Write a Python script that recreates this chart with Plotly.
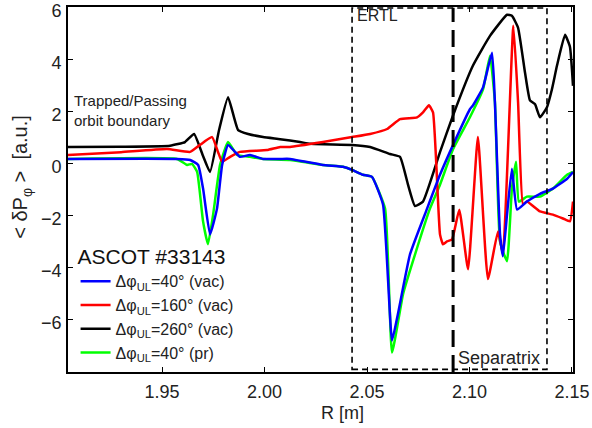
import plotly.graph_objects as go

# Major radius [m] and toroidal canonical momentum change for each coil phasing
r_vac40 = [1.9041, 1.9573, 1.9637, 1.9676, 1.9700, 1.9734, 1.9768, 1.9793, 1.9822, 1.9856,
           1.9880, 1.9929, 1.9993, 2.0076, 2.0124, 2.0285, 2.0383, 2.0427, 2.0480, 2.0524,
           2.0578, 2.0622, 2.0651, 2.0710, 2.0793, 2.0856, 2.0920, 2.1002, 2.1017, 2.1066,
           2.1110, 2.1124, 2.1149, 2.1163, 2.1183, 2.1207, 2.1232, 2.1280, 2.1344, 2.1407,
           2.1476, 2.1505]
dp_vac40 = [0.19, 0.19, 0.15, -0.04, -0.95, -2.71, -1.72, -0.04, 0.73, 0.46,
            0.27, 0.34, 0.19, 0.19, 0.19, -0.04, -0.11, -0.23, -0.42, -0.50,
            -1.56, -6.79, -5.76, -3.47, -1.72, -0.42, 0.73, 2.10, 2.25, 2.94,
            4.27, 2.37, -2.71, -3.55, -1.95, -0.19, -1.76, -1.45, -1.15, -0.95,
            -0.57, -0.31]

r_vac160 = [1.9041, 1.9300, 1.9524, 1.9637, 1.9685, 1.9744, 1.9773, 1.9793, 1.9832, 1.9880,
            2.0012, 2.0076, 2.0124, 2.0285, 2.0427, 2.0515, 2.0598, 2.0661, 2.0744, 2.0773,
            2.0802, 2.0822, 2.0856, 2.0871, 2.0890, 2.0915, 2.0950, 2.0993, 2.1041, 2.1090,
            2.1139, 2.1163, 2.1214, 2.1237, 2.1261, 2.1280, 2.1344, 2.1407, 2.1456, 2.1490,
            2.1505]
dp_vac160 = [0.34, 0.45, 0.57, 0.46, 0.73, 1.03, 0.46, 0.08, 0.27, 0.46,
             0.53, 0.65, 0.65, 0.84, 1.03, 1.15, 1.34, 1.72, 1.79, 1.98,
             2.25, 1.98, -2.71, -3.09, -2.98, -2.90, -1.76, -4.05, 1.03, -4.43,
             -2.60, -3.47, 5.31, 2.37, -1.56, -1.45, -1.83, -1.95, -2.10, -2.21,
             -1.45]

r_vac260 = [1.9041, 1.9300, 1.9539, 1.9612, 1.9656, 1.9700, 1.9734, 1.9778, 1.9822, 1.9871,
            1.9920, 1.9993, 2.0076, 2.0173, 2.0222, 2.0427, 2.0515, 2.0612, 2.0661, 2.0700,
            2.0734, 2.0773, 2.0856, 2.0920, 2.1017, 2.1100, 2.1183, 2.1207, 2.1237, 2.1271,
            2.1295, 2.1320, 2.1344, 2.1378, 2.1402, 2.1427, 2.1466, 2.1490, 2.1505]
dp_vac260 = [0.65, 0.66, 0.70, 0.84, 1.15, 0.30, -0.31, 1.30, 2.56, 1.30,
             1.15, 1.03, 0.95, 0.84, 0.77, 0.73, 0.65, 0.38, 0.27, -0.80,
             -1.62, -1.45, 0.45, 1.87, 3.78, 4.92, 5.73, 5.69, 5.23, 3.50,
             2.44, 2.29, 1.79, 2.18, 2.86, 3.78, 4.96, 4.50, 3.00]

r_pr40 = [1.9041, 1.9573, 1.9622, 1.9646, 1.9671, 1.9700, 1.9724, 1.9749, 1.9783, 1.9822,
          1.9866, 1.9929, 1.9993, 2.0124, 2.0285, 2.0383, 2.0427, 2.0480, 2.0524, 2.0588,
          2.0622, 2.0676, 2.0724, 2.0807, 2.0856, 2.0920, 2.1002, 2.1066, 2.1100, 2.1124,
          2.1149, 2.1183, 2.1207, 2.1227, 2.1241, 2.1280, 2.1344, 2.1407, 2.1476, 2.1505]
dp_pr40 = [0.19, 0.19, -0.04, 0.00, -0.31, -2.21, -3.09, -1.95, -0.04, 0.84,
           0.34, 0.27, 0.19, 0.15, -0.04, -0.11, -0.23, -0.42, -0.50, -1.72,
           -7.25, -5.00, -3.74, -1.72, -0.80, 0.57, 1.79, 2.86, 4.16, 2.37,
           -2.98, -3.74, -0.95, 0.08, -1.45, -1.26, -1.26, -0.95, -0.42, -0.31]

# Region markers [m]
ertl_r = [2.0427, 2.1378]
separatrix_r = 2.0920

x_ticks = [1.95, 2.00, 2.05, 2.10, 2.15]
y_ticks = [-6, -4, -2, 0, 2, 4, 6]

FONT = "Liberation Sans, Arial, sans-serif"
TXT = "#222222"

fig = go.Figure()

series = [
    (r_pr40, dp_pr40, "#00ff00", "Δφ<sub>UL</sub>=40° (pr)", 4),
    (r_vac260, dp_vac260, "#000000", "Δφ<sub>UL</sub>=260° (vac)", 3),
    (r_vac160, dp_vac160, "#ff0000", "Δφ<sub>UL</sub>=160° (vac)", 2),
    (r_vac40, dp_vac40, "#0000ff", "Δφ<sub>UL</sub>=40° (vac)", 1),
]
for xs, ys, col, name, rank in series:
    fig.add_trace(go.Scatter(x=xs, y=ys, mode="lines", name=name, legendrank=rank,
                             line=dict(color=col, width=2.5, shape="spline", smoothing=0.4)))

# ERTL box (short dashes) and separatrix (long dashes)
fig.add_shape(type="rect", xref="x", yref="y", x0=ertl_r[0], x1=ertl_r[1], y0=-7.9, y1=5.99,
              line=dict(color="black", width=1.6, dash="6px,4px"))
fig.add_shape(type="line", xref="x", yref="y", x0=separatrix_r, x1=separatrix_r, y0=-8, y1=6,
              line=dict(color="black", width=3, dash="17px,8px"))

fig.add_annotation(x=ertl_r[0], y=5.7, xref="x", yref="y", text="ERTL", showarrow=False,
                   xanchor="left", yanchor="middle", xshift=3,
                   font=dict(family=FONT, size=16, color=TXT))
fig.add_annotation(x=separatrix_r, y=-7.45, xref="x", yref="y", text="Separatrix", showarrow=False,
                   xanchor="left", yanchor="middle", xshift=3,
                   font=dict(family=FONT, size=18, color=TXT))
fig.add_annotation(x=1.9061, y=2.05, xref="x", yref="y", text="Trapped/Passing<br>orbit boundary",
                   showarrow=False, xanchor="left", yanchor="middle", align="left",
                   font=dict(family=FONT, size=15, color=TXT))

# axis titles
fig.add_annotation(x=-0.091, y=0.535, xref="paper", yref="paper",
                   text="< δP<sub>φ</sub> >  [a.u.]", textangle=-90, showarrow=False,
                   xanchor="center", yanchor="middle",
                   font=dict(family=FONT, size=20, color=TXT))
fig.add_annotation(x=0.5426, y=-0.112, xref="paper", yref="paper", text="R [m]",
                   showarrow=False, xanchor="center", yanchor="middle",
                   font=dict(family=FONT, size=18, color=TXT))

fig.update_layout(
    width=592, height=428,
    margin=dict(l=68, r=19, t=7, b=56, autoexpand=False),
    paper_bgcolor="white", plot_bgcolor="white",
    font=dict(family=FONT, color=TXT),
    showlegend=True,
    legend=dict(
        x=0.015, y=0.37, xanchor="left", yanchor="top",
        bgcolor="rgba(0,0,0,0)", borderwidth=0,
        title=dict(text="ASCOT #33143", font=dict(family=FONT, size=21, color="#111111")),
        font=dict(family=FONT, size=16, color=TXT),
        tracegroupgap=0,
    ),
    xaxis=dict(range=[1.9041, 2.1505], tickvals=x_ticks, tickformat=".2f", automargin=False,
               showgrid=False, zeroline=False, showline=True, linecolor="black", linewidth=1.6,
               mirror="ticks", ticks="inside", ticklen=5, tickcolor="black",
               ticklabelstandoff=3, ticklabeloverflow="allow",
               tickfont=dict(family=FONT, size=18, color=TXT)),
    yaxis=dict(range=[-8, 6.03], tickvals=y_ticks, automargin=False,
               showgrid=False, zeroline=False, showline=True, linecolor="black", linewidth=1.6,
               mirror="ticks", ticks="inside", ticklen=5, tickcolor="black",
               ticklabelstandoff=1, ticklabelshift=3, ticklabeloverflow="allow",
               tickfont=dict(family=FONT, size=18, color=TXT)),
)

fig.write_html("out.html")
